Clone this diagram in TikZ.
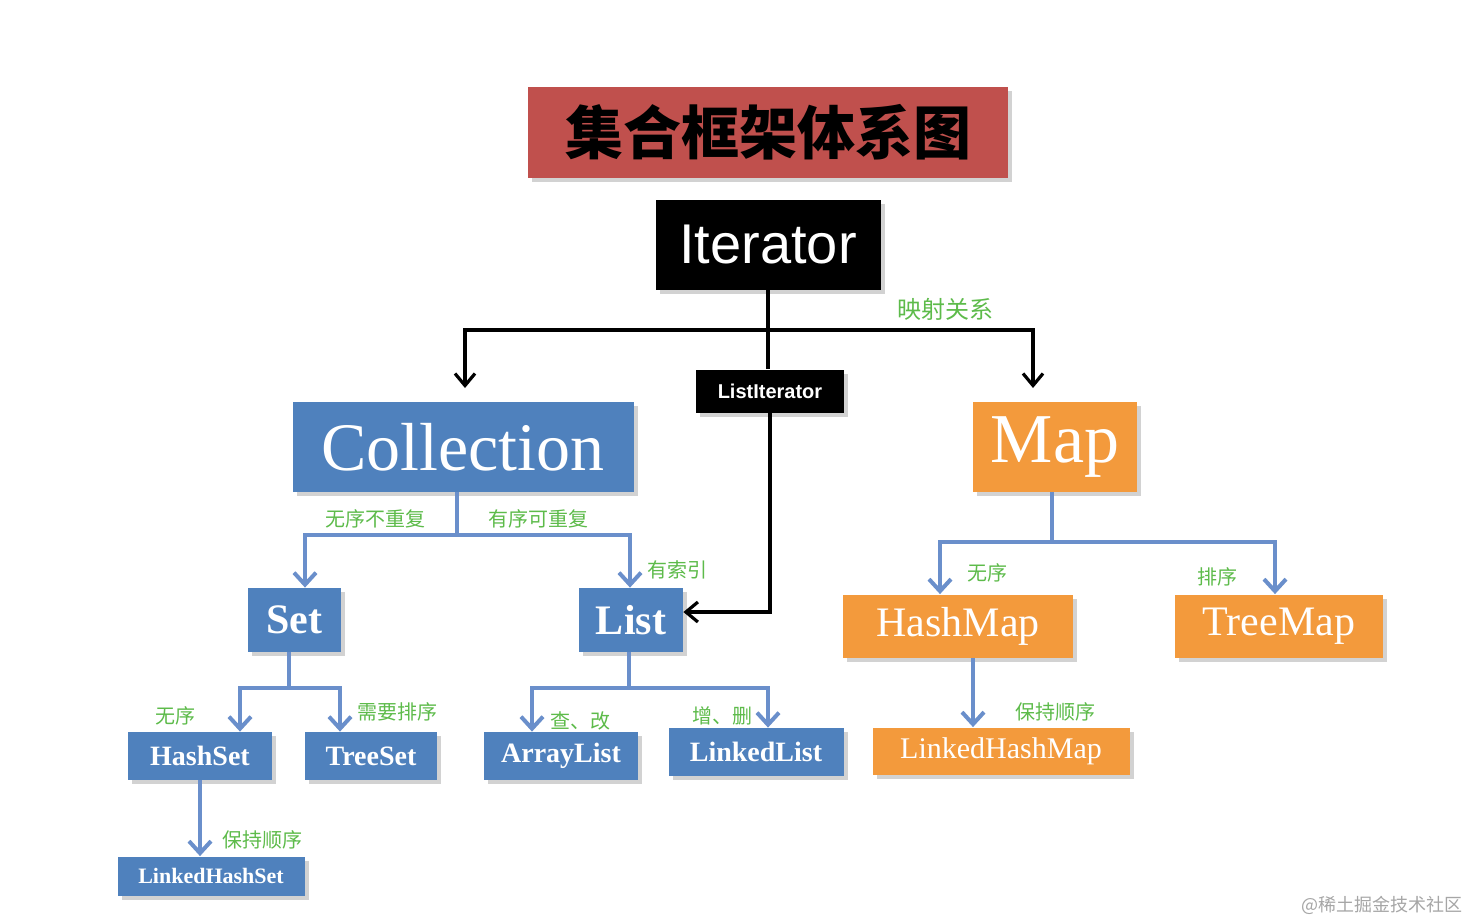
\documentclass[tikz,border=0pt]{standalone}
\usepackage{fontspec}
\setmainfont{Liberation Serif}
\newfontfamily\cjk{Noto Sans CJK SC}
\newfontfamily\sans{Liberation Sans}
\usetikzlibrary{shadows,arrows.meta}
\definecolor{tred}{HTML}{C0504D}
\definecolor{tblue}{HTML}{4F81BD}
\definecolor{torange}{HTML}{F39A3C}
\definecolor{tgreen}{HTML}{5DBB4A}
\definecolor{lblue}{HTML}{6A8FCB}
\tikzset{
 box/.style={inner sep=0pt, draw=none, drop shadow={shadow xshift=2pt,shadow yshift=-2pt,opacity=0.35}, text=white},
 bluebox/.style={box, fill=tblue, font=\bfseries},
 orbox/.style={box, fill=torange},
 blkbox/.style={box, fill=black, font=\sans},
 lbl/.style={text=tgreen, font=\cjk\fontsize{10}{12}\selectfont, inner sep=1pt},
 blk/.style={draw=black, line width=1.6pt, -{Straight Barb[length=6pt,width=10pt,line width=1.6pt]}},
 blu/.style={draw=lblue, line width=2pt, -{Straight Barb[length=6pt,width=11pt,line width=2pt]}},
}
\begin{document}
\begin{tikzpicture}[x=0.5pt,y=-0.5pt]
\useasboundingbox[fill=white] (0,0) rectangle (1468,922);
% title
\node[box, fill=tred, minimum width=0.5*480pt, minimum height=0.5*91pt, text=black, font=\cjk\bfseries\fontsize{29}{32}\selectfont] (title) at (768,132) {集合框架体系图};
\node[blkbox, minimum width=0.5*225pt, minimum height=0.5*90pt, font=\sans\fontsize{28}{30}\selectfont] (it) at (768,245) {Iterator};
\node[blkbox, minimum width=0.5*148pt, minimum height=0.5*43pt, font=\sans\bfseries\fontsize{10}{12}\selectfont] (li) at (770,391) {ListIterator};
\node[bluebox, minimum width=0.5*341pt, minimum height=0.5*90pt, font=\fontsize{34}{36}\selectfont] (col) at (463,447) {Collection};
\node[orbox, minimum width=0.5*164pt, minimum height=0.5*90pt, font=\fontsize{35}{38}\selectfont] (map) at (1055,447) {Map};
\node[bluebox, minimum width=0.5*93pt, minimum height=0.5*64pt, font=\bfseries\fontsize{21}{24}\selectfont] (set) at (294,620) {Set};
\node[bluebox, minimum width=0.5*104pt, minimum height=0.5*64pt, font=\bfseries\fontsize{21}{24}\selectfont] (list) at (631,620) {List};
\node[bluebox, minimum width=0.5*144pt, minimum height=0.5*48pt, font=\bfseries\fontsize{14}{16}\selectfont] (hs) at (200,756) {HashSet};
\node[bluebox, minimum width=0.5*132pt, minimum height=0.5*48pt, font=\bfseries\fontsize{14}{16}\selectfont] (ts) at (371,756) {TreeSet};
\node[bluebox, minimum width=0.5*154pt, minimum height=0.5*48pt, font=\bfseries\fontsize{14}{16}\selectfont] (al) at (561,756) {ArrayList};
\node[bluebox, minimum width=0.5*175pt, minimum height=0.5*48pt, font=\bfseries\fontsize{14}{16}\selectfont] (ll) at (756,752) {LinkedList};
\node[bluebox, minimum width=0.5*187pt, minimum height=0.5*39pt, font=\bfseries\fontsize{11}{13}\selectfont] (lhs) at (211,876) {LinkedHashSet};
\node[orbox, minimum width=0.5*230pt, minimum height=0.5*63pt, font=\fontsize{21}{24}\selectfont] (hm) at (958,626) {HashMap};
\node[orbox, minimum width=0.5*208pt, minimum height=0.5*63pt, font=\fontsize{21}{24}\selectfont] (tm) at (1279,626) {TreeMap};
\node[orbox, minimum width=0.5*257pt, minimum height=0.5*47pt, font=\fontsize{15}{17}\selectfont] (lhm) at (1001,751) {LinkedHashMap};
% coordinates
\coordinate (j1) at (768,330);
\coordinate (jc) at (465,330);
\coordinate (jm) at (1033,330);
\coordinate (jl) at (770,612);
\coordinate (c1) at (457,535);
\coordinate (c2) at (305,535);
\coordinate (c3) at (630,535);
\coordinate (s1) at (289,688);
\coordinate (s2) at (240,688);
\coordinate (s3) at (340,688);
\coordinate (l1) at (629,688);
\coordinate (l2) at (532,688);
\coordinate (l3) at (768,688);
\coordinate (m1) at (1052,542);
\coordinate (m2) at (940,542);
\coordinate (m3) at (1275,542);
% black connectors
\draw[draw=black,line width=1.6pt] (it.south -| j1) -- (li.north -| j1);
\draw[blk] (j1) -- (jc) -- (465,388);
\draw[blk] (j1) -- (jm) -- (1033,388);
\draw[blk] (li.south) -- (jl) -- (list.east |- jl);
\node[lbl, font=\cjk\fontsize{12}{14}\selectfont] at (945,309) {映射关系};
% blue connectors
\draw[draw=lblue,line width=2pt] (col.south -| c1) -- (c1);
\draw[blu] (c1) -- (c2) -- (set.north -| c2);
\draw[blu] (c1) -- (c3) -- (list.north -| c3);
\draw[draw=lblue,line width=2pt] (set.south -| s1) -- (s1);
\draw[blu] (s1) -- (s2) -- (hs.north -| s2);
\draw[blu] (s1) -- (s3) -- (ts.north -| s3);
\draw[draw=lblue,line width=2pt] (list.south -| l1) -- (l1);
\draw[blu] (l1) -- (l2) -- (al.north -| l2);
\draw[blu] (l1) -- (l3) -- (ll.north -| l3);
\draw[blu] (hs.south) -- (lhs.north -| hs.south);
\draw[draw=lblue,line width=2pt] (map.south -| m1) -- (m1);
\draw[blu] (m1) -- (m2) -- (hm.north -| m2);
\draw[blu] (m1) -- (m3) -- (tm.north -| m3);
\draw[blu] (hm.south -| 973,0) -- (lhm.north -| 973,0);
% labels
\node[lbl] at (375,519) {无序不重复};
\node[lbl] at (538,519) {有序可重复};
\node[lbl] at (677,570) {有索引};
\node[lbl] at (175,716) {无序};
\node[lbl] at (397,712) {需要排序};
\node[lbl] at (580,721) {查、改};
\node[lbl] at (722,716) {增、删};
\node[lbl] at (262,840) {保持顺序};
\node[lbl] at (987,573) {无序};
\node[lbl] at (1217,577) {排序};
\node[lbl] at (1055,712) {保持顺序};
\node[text=gray!70, font=\cjk\fontsize{9}{11}\selectfont] at (1382,905) {@稀土掘金技术社区};
\end{tikzpicture}
\end{document}
